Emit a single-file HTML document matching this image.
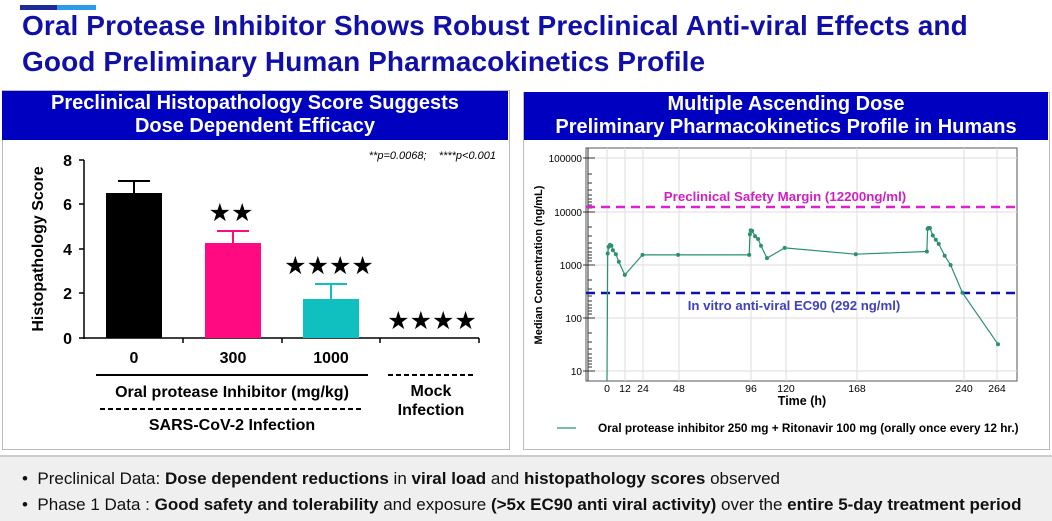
<!DOCTYPE html>
<html><head><meta charset="utf-8"><style>
body{margin:0;width:1052px;height:519px;overflow:hidden;background:#fff;font-family:"Liberation Sans",sans-serif;position:relative}
.t{position:absolute;left:22px;top:8px;font-size:28px;font-weight:bold;color:#1010a8;line-height:36px;letter-spacing:0.1px}
.hdr{position:absolute;background:#0000c0;color:#fff;font-weight:bold;font-size:20px;text-align:center;line-height:23px;padding-top:1px;box-sizing:border-box}
.panel{position:absolute;border:1px solid #bbb;background:#fff}
.band{position:absolute;left:0;top:455px;width:1052px;height:64px;background:#efefef;border-top:2px solid #ccc}
.b{position:absolute;left:22px;font-size:17px;color:#111;white-space:nowrap}
</style></head><body>
<div style="position:absolute;left:20px;top:5px;width:37px;height:5px;background:#1c2a9a"></div>
<div style="position:absolute;left:57px;top:5px;width:39px;height:5px;background:#2d9be8"></div>
<div class="t">Oral Protease Inhibitor Shows Robust Preclinical Anti-viral Effects and<br>Good Preliminary Human Pharmacokinetics Profile</div>
<div class="panel" style="left:2px;top:90px;width:506px;height:358px"></div>
<div class="panel" style="left:523px;top:92px;width:525px;height:356px"></div>
<div class="hdr" style="left:2px;top:91px;width:506px;height:49px">Preclinical Histopathology Score Suggests<br>Dose Dependent Efficacy</div>
<div class="hdr" style="left:524px;top:92px;width:524px;height:48px">Multiple Ascending Dose<br>Preliminary Pharmacokinetics Profile in Humans</div>
<svg width="1052" height="519" style="position:absolute;left:0;top:0" font-family="Liberation Sans, sans-serif">
<g stroke="#000" stroke-width="1.5">
<line x1="84" y1="160" x2="84" y2="339"/>
<line x1="84" y1="338" x2="479" y2="338"/>
<line x1="79" y1="160" x2="84" y2="160"/><line x1="79" y1="204" x2="84" y2="204"/><line x1="79" y1="249" x2="84" y2="249"/><line x1="79" y1="293" x2="84" y2="293"/><line x1="79" y1="338" x2="84" y2="338"/>
<line x1="183" y1="338" x2="183" y2="343"/><line x1="282" y1="338" x2="282" y2="343"/><line x1="380" y1="338" x2="380" y2="343"/><line x1="479" y1="338" x2="479" y2="343"/>
</g>
<g font-size="16" font-weight="bold" text-anchor="end"><text x="72" y="166">8</text><text x="72" y="210">6</text><text x="72" y="255">4</text><text x="72" y="299">2</text><text x="72" y="344">0</text></g>
<text transform="translate(43,249) rotate(-90)" text-anchor="middle" font-size="16" font-weight="bold">Histopathology Score</text>
<rect x="106" y="193" width="56" height="145" fill="#000"/>
<rect x="205" y="243" width="56" height="95" fill="#ff0a80"/>
<rect x="303" y="299" width="56" height="39" fill="#10c0c0"/>
<g stroke-width="2"><path d="M134 193V181M118 181H150" stroke="#000"/><path d="M233 243V231M217 231H249" stroke="#ff0a80"/><path d="M331 299V284M315 284H347" stroke="#10c0c0"/></g>
<g font-size="25" text-anchor="middle"><text x="231" y="221">★★</text><text x="329" y="274">★★★★</text><text x="432" y="329">★★★★</text></g>
<text x="496" y="159" font-size="11" font-style="italic" text-anchor="end" xml:space="preserve">**p=0.0068;    ****p&lt;0.001</text>
<g font-size="16" font-weight="bold" text-anchor="middle"><text x="134" y="363">0</text><text x="233" y="363">300</text><text x="331" y="363">1000</text>
<text x="232" y="397">Oral protease Inhibitor (mg/kg)</text><text x="232" y="430">SARS-CoV-2 Infection</text>
<text x="431" y="396">Mock</text><text x="431" y="415">Infection</text></g>
<line x1="96" y1="375" x2="368" y2="375" stroke="#000" stroke-width="2"/>
<line x1="100" y1="409" x2="363" y2="409" stroke="#000" stroke-width="2" stroke-dasharray="5,3"/>
<line x1="388" y1="375" x2="476" y2="375" stroke="#000" stroke-width="2" stroke-dasharray="5,3"/>
<rect x="586" y="148" width="431" height="233" fill="none" stroke="#555"/>
<g stroke="#ddd"><line x1="607" y1="148" x2="607" y2="381"/><line x1="625" y1="148" x2="625" y2="381"/><line x1="643" y1="148" x2="643" y2="381"/><line x1="679" y1="148" x2="679" y2="381"/><line x1="751" y1="148" x2="751" y2="381"/><line x1="786" y1="148" x2="786" y2="381"/><line x1="857" y1="148" x2="857" y2="381"/><line x1="964" y1="148" x2="964" y2="381"/><line x1="997" y1="148" x2="997" y2="381"/>
<line x1="586" y1="158" x2="1017" y2="158"/><line x1="586" y1="212" x2="1017" y2="212"/><line x1="586" y1="265" x2="1017" y2="265"/><line x1="586" y1="318" x2="1017" y2="318"/><line x1="586" y1="371" x2="1017" y2="371"/></g>
<g stroke="#333"><line x1="588" y1="148" x2="588" y2="381"/>
<path d="M583 158H595M583 212H595M583 265H595M583 318H595M583 371H595" />
<path d="M588 174H592M588 183H592M588 190H592M588 195H592M588 199H592M588 202H592M588 205H592M588 208H592M588 227H592M588 236H592M588 243H592M588 248H592M588 252H592M588 255H592M588 258H592M588 261H592M588 280H592M588 289H592M588 296H592M588 301H592M588 305H592M588 308H592M588 311H592M588 314H592M588 333H592M588 342H592M588 349H592M588 354H592M588 358H592M588 361H592M588 364H592M588 367H592"/></g>
<g font-size="10" text-anchor="end"><text x="582" y="162">100000</text><text x="582" y="216">10000</text><text x="582" y="269">1000</text><text x="582" y="322">100</text><text x="582" y="375">10</text></g>
<text transform="translate(542,265) rotate(-90)" text-anchor="middle" font-size="11" font-weight="bold">Median Concentration (ng/mL)</text>
<g font-size="10.5" text-anchor="middle"><text x="607" y="392">0</text><text x="625" y="392">12</text><text x="643" y="392">24</text><text x="679" y="392">48</text><text x="751" y="392">96</text><text x="786" y="392">120</text><text x="857" y="392">168</text><text x="964" y="392">240</text><text x="997" y="392">264</text></g>
<text x="802" y="405" font-size="12.5" font-weight="bold" text-anchor="middle">Time (h)</text>
<line x1="586" y1="207" x2="1017" y2="207" stroke="#e020d0" stroke-width="2.5" stroke-dasharray="9,6"/>
<line x1="586" y1="293" x2="1017" y2="293" stroke="#1010b0" stroke-width="2.5" stroke-dasharray="9,6"/>
<text x="785" y="201" font-size="13.3" font-weight="bold" fill="#d020c0" text-anchor="middle">Preclinical Safety Margin (12200ng/ml)</text>
<text x="794" y="310" font-size="13.2" font-weight="bold" fill="#4040c0" text-anchor="middle">In vitro anti-viral EC90 (292 ng/ml)</text>
<polyline fill="none" stroke="#2a9070" stroke-width="1.2" points="607,381 607.7,253.5 608.5,246.9 610,244.9 611.4,245.8 612.9,250.2 615.9,254.2 618.8,261.8 624.8,274.9 642.5,254.9 678.1,254.9 749.2,254.9 749.9,234.3 750.7,230.4 752.1,230.9 755.1,236.2 758.1,239 761,245.8 767,258.1 784.7,247.9 855.8,254.2 926.9,251.5 927.6,228.9 928.4,228 929.9,228 932.8,235.5 935.8,239.7 938.7,243.9 944.7,255.7 950.6,265 962.4,292.7 998,344.2"/>
<g fill="#2a9070"><circle cx="607.7" cy="253.5" r="2"/><circle cx="608.5" cy="246.9" r="2"/><circle cx="610" cy="244.9" r="2"/><circle cx="611.4" cy="245.8" r="2"/><circle cx="612.9" cy="250.2" r="2"/><circle cx="615.9" cy="254.2" r="2"/><circle cx="618.8" cy="261.8" r="2"/><circle cx="624.8" cy="274.9" r="2"/><circle cx="642.5" cy="254.9" r="2"/><circle cx="678.1" cy="254.9" r="2"/><circle cx="749.2" cy="254.9" r="2"/><circle cx="749.9" cy="234.3" r="2"/><circle cx="750.7" cy="230.4" r="2"/><circle cx="752.1" cy="230.9" r="2"/><circle cx="755.1" cy="236.2" r="2"/><circle cx="758.1" cy="239" r="2"/><circle cx="761" cy="245.8" r="2"/><circle cx="767" cy="258.1" r="2"/><circle cx="784.7" cy="247.9" r="2"/><circle cx="855.8" cy="254.2" r="2"/><circle cx="926.9" cy="251.5" r="2"/><circle cx="927.6" cy="228.9" r="2"/><circle cx="928.4" cy="228" r="2"/><circle cx="929.9" cy="228" r="2"/><circle cx="932.8" cy="235.5" r="2"/><circle cx="935.8" cy="239.7" r="2"/><circle cx="938.7" cy="243.9" r="2"/><circle cx="944.7" cy="255.7" r="2"/><circle cx="950.6" cy="265" r="2"/><circle cx="962.4" cy="292.7" r="2"/><circle cx="998" cy="344.2" r="2"/></g>
<line x1="557" y1="428" x2="576" y2="428" stroke="#2a9070" stroke-width="1.2"/>
<text x="598" y="432" font-size="11.8" font-weight="bold">Oral protease inhibitor 250 mg + Ritonavir 100 mg (orally once every 12 hr.)</text>
</svg>
<div class="band"></div>
<div class="b" style="top:469px">•&nbsp;&nbsp;Preclinical Data: <b>Dose dependent reductions</b> in <b>viral load</b> and <b>histopathology scores</b> observed</div>
<div class="b" style="top:495px">•&nbsp;&nbsp;Phase 1 Data : <b>Good safety and tolerability</b> and exposure <b>(&gt;5x EC90 anti viral activity)</b> over the <b>entire 5-day treatment period</b></div>
</body></html>
